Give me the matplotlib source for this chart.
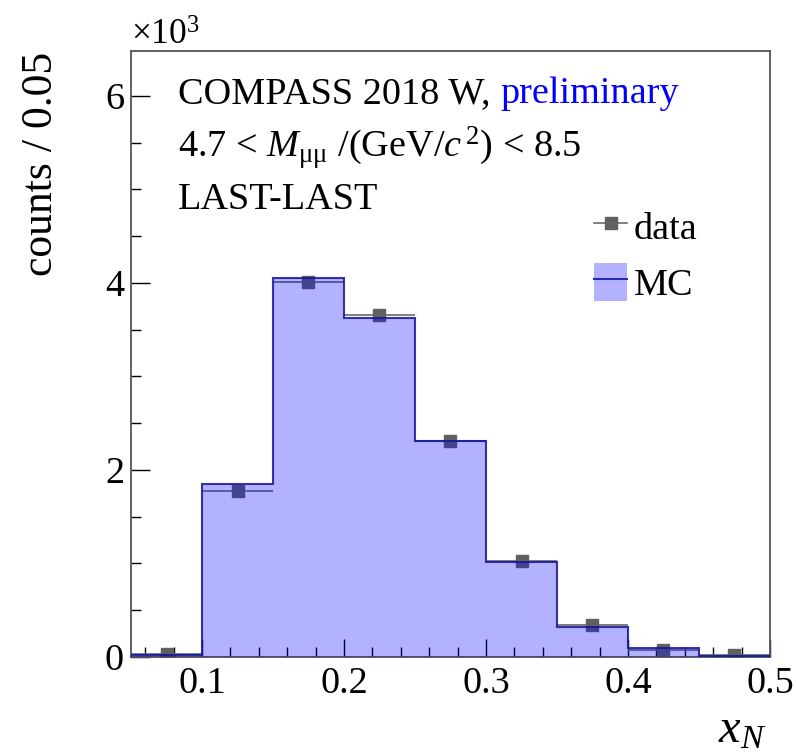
import numpy as np
import matplotlib
matplotlib.use("Agg")
import matplotlib.pyplot as plt
from matplotlib.patches import Patch
from matplotlib.lines import Line2D
from matplotlib.ticker import MultipleLocator, FuncFormatter

plt.rcParams['font.family'] = ['Liberation Serif', 'DejaVu Serif']
plt.rcParams['mathtext.fontset'] = 'custom'
plt.rcParams['mathtext.rm'] = 'Liberation Serif'
plt.rcParams['mathtext.it'] = 'Liberation Serif:italic'

# x_N binning, 0.05 wide
bin_edges = [0.05, 0.10, 0.15, 0.20, 0.25, 0.30, 0.35, 0.40, 0.45, 0.50]
bin_centers = [0.075, 0.125, 0.175, 0.225, 0.275, 0.325, 0.375, 0.425, 0.475]

# counts per bin
mc_counts = [25, 1845, 4050, 3630, 2305, 1015, 325, 95, 15]
data_counts = [28, 1775, 4015, 3660, 2310, 1030, 340, 80, 20]
data_err = [5, 42, 63, 60, 48, 32, 18, 9, 4]

SCALE = 1e3
FS = 27.5
DATA_C = '#606060'
MC_FILL = (0, 0, 1, 0.3)
MC_EDGE = (0.08, 0.08, 0.62, 0.85)

fig = plt.figure(figsize=(7.96, 7.54), dpi=100)
ax = fig.add_axes([131 / 796, 1 - 657 / 754, 639 / 796, 606 / 754])

mc = np.array(mc_counts) / SCALE
dat = np.array(data_counts) / SCALE
derr = np.array(data_err) / SCALE

# data first, MC drawn on top with transparency
ax.errorbar(bin_centers, dat, xerr=0.025, yerr=derr, fmt='s',
            color=DATA_C, ecolor='#6a6a6a', ms=8, elinewidth=1.2,
            capsize=0, zorder=2)
ax.stairs(mc, bin_edges, fill=True, baseline=0,
          facecolor=MC_FILL, edgecolor=MC_EDGE, linewidth=1.5, zorder=3)

ax.set_xlim(0.05, 0.5)
ax.set_ylim(0, 6.48)

ax.xaxis.set_major_locator(MultipleLocator(0.1))
ax.xaxis.set_minor_locator(MultipleLocator(0.02))
ax.yaxis.set_major_locator(MultipleLocator(2))
ax.yaxis.set_minor_locator(MultipleLocator(0.5))
ax.xaxis.set_major_formatter(FuncFormatter(lambda v, p: f"{v:g}"))
ax.yaxis.set_major_formatter(FuncFormatter(lambda v, p: f"{v:g}"))

ax.tick_params(which='both', direction='in', top=False, right=False,
               labelsize=FS, color='black', width=1.0)
ax.tick_params(axis='x', which='major', length=13, pad=7)
ax.tick_params(axis='y', which='major', length=13.5, pad=5)
ax.tick_params(which='minor', length=7)
for s in ax.spines.values():
    s.set_color('#555555')
    s.set_linewidth(1.3)

ax.set_ylabel('counts / 0.05', fontsize=31.5, loc='top')
ax.yaxis.set_label_coords(-0.11, 0.998)
ax.set_xlabel(r'$x_{N}$', fontsize=35, loc='right')
ax.xaxis.set_label_coords(0.995, -0.084)

fig.text(131 / 796, 1 - 45 / 754, r'$\times10^{3}$', fontsize=FS - 2,
         ha='left', va='baseline')

t1 = ax.text(0.0736, 0.914, 'COMPASS 2018 W, ', transform=ax.transAxes,
             fontsize=FS, ha='left', va='baseline')
ax.annotate('preliminary', xy=(1, 0), xycoords=t1, fontsize=FS,
            color='#0000ff', ha='left', va='bottom')
ax.text(0.0736, 0.825, r'4.7 < $M_{\mathrm{μμ}}$ /(GeV/$c^{\,2}$) < 8.5',
        transform=ax.transAxes, fontsize=FS, ha='left', va='baseline')
ax.text(0.0736, 0.739, 'LAST-LAST', transform=ax.transAxes,
        fontsize=FS, ha='left', va='baseline')

data_handle = Line2D([], [], color='#6a6a6a', lw=1.2, marker='s', ms=8,
                     markerfacecolor=DATA_C, markeredgecolor=DATA_C)
mc_handle = (Patch(facecolor=MC_FILL, edgecolor='none'),
             Line2D([], [], color=MC_EDGE, lw=1.5))
ax.legend([data_handle, mc_handle], ['data', 'MC'], loc='upper left',
          bbox_to_anchor=(0.7246, 0.743), frameon=False, fontsize=FS,
          handlelength=0.87, handleheight=1.15, handletextpad=0.17,
          labelspacing=0.42, borderpad=0, borderaxespad=0)

fig.savefig('out.png', dpi=100)
